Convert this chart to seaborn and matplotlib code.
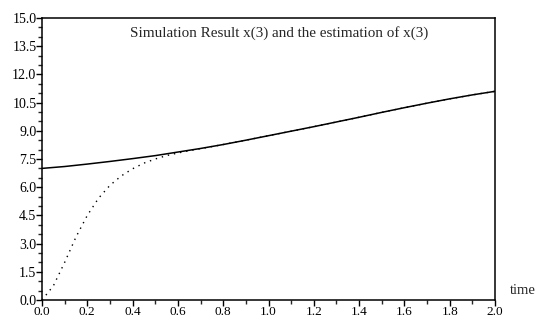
import numpy as np
import pandas as pd
import matplotlib
matplotlib.use("Agg")
import matplotlib.pyplot as plt
import seaborn as sns
from matplotlib.ticker import MultipleLocator, FormatStrFormatter

# simulation result x(3)
t_sim = [0.0, 0.1, 0.2, 0.3, 0.4, 0.5, 0.6, 0.7, 0.8, 0.9, 1.0,
         1.1, 1.2, 1.3, 1.4, 1.5, 1.6, 1.7, 1.8, 1.9, 2.0]
x3_sim = [7.0, 7.1, 7.23, 7.37, 7.52, 7.68, 7.87, 8.06, 8.27, 8.5, 8.74,
          8.98, 9.22, 9.47, 9.72, 9.98, 10.23, 10.47, 10.7, 10.91, 11.1]

# estimation of x(3)
t_est = [0.0, 0.05, 0.1, 0.15, 0.2, 0.25, 0.3, 0.35, 0.4, 0.45, 0.5, 0.55,
         0.6, 0.65, 0.7, 0.8, 0.9, 1.0, 1.1, 1.2, 1.3, 1.4, 1.5, 1.6, 1.7,
         1.8, 1.9, 2.0]
x3_est = [0.0, 0.75, 2.0, 3.35, 4.5, 5.42, 6.1, 6.6, 6.98, 7.28, 7.5, 7.68,
          7.82, 7.94, 8.05, 8.27, 8.5, 8.74, 8.98, 9.22, 9.47, 9.72, 9.98,
          10.23, 10.47, 10.7, 10.91, 11.1]

df_sim = pd.DataFrame({"time": t_sim, "x3": x3_sim})
df_est = pd.DataFrame({"time": t_est, "x3": x3_est})

sns.set_theme(style="ticks")
plt.rcParams['font.family'] = ['Liberation Serif', 'DejaVu Serif']

fig = plt.figure(figsize=(5.38, 3.2), dpi=100)
ax = fig.add_axes([42 / 538, 1 - 300 / 320, 453 / 538, 282 / 320])

sns.lineplot(data=df_sim, x="time", y="x3", color="black", lw=1.1, ax=ax)
sns.lineplot(data=df_est, x="time", y="x3", color="black", lw=1.0,
             linestyle=(0, (1, 3.5)), ax=ax)

ax.set_xlim(0, 2.0)
ax.set_ylim(0, 15.0)
ax.xaxis.set_major_locator(MultipleLocator(0.2))
ax.xaxis.set_minor_locator(MultipleLocator(0.1))
ax.yaxis.set_major_locator(MultipleLocator(1.5))
ax.yaxis.set_minor_locator(MultipleLocator(0.5))
ax.xaxis.set_major_formatter(FormatStrFormatter("%.1f"))
ax.yaxis.set_major_formatter(FormatStrFormatter("%.1f"))
ax.tick_params(which="major", length=4, width=1, labelsize=10, colors="black")
ax.tick_params(axis="y", which="major", pad=0)
ax.tick_params(axis="x", which="major", pad=0.5, labelsize=9.5)
ax.tick_params(which="minor", length=3, width=1)
ax.set_xlabel("")
ax.set_ylabel("")
for s in ax.spines.values():
    s.set_linewidth(1.1)
    s.set_color("black")

ax.text(0.523, 0.947, "Simulation Result x(3) and the estimation of x(3)",
        transform=ax.transAxes, ha="center", va="center", fontsize=10.9)
ax.text(1.062, 0.035, "time", transform=ax.transAxes, ha="center",
        va="center", fontsize=10.5, clip_on=False)

fig.savefig("out.png", dpi=100)
